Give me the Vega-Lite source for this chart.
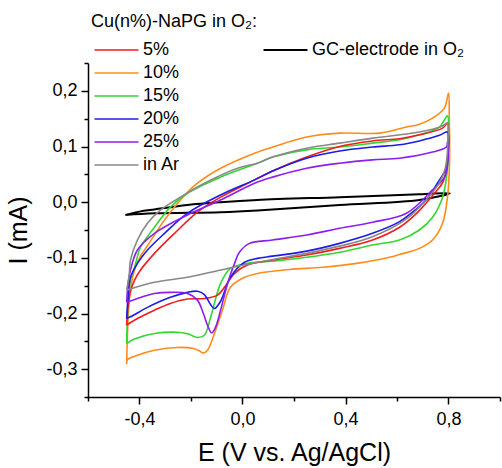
{
  "$schema": "https://vega.github.io/schema/vega-lite/v6.json",
  "width": 412,
  "height": 334,
  "autosize": {"type": "none"},
  "padding": {"left": 88, "top": 63, "right": 2, "bottom": 71},
  "config": {
    "font": "Liberation Sans",
    "view": {"stroke": null},
    "axis": {"grid": false, "domainColor": "#000", "domainWidth": 1.5, "tickColor": "#000", "tickWidth": 1.5, "labelColor": "#000", "titleColor": "#000", "labelFont": "Liberation Sans", "titleFont": "Liberation Sans", "titleFontWeight": "normal"},
    "legend": {"padding": 0, "labelFont": "Liberation Sans", "titleFont": "Liberation Sans", "labelColor": "#000", "titleColor": "#000", "titleFontWeight": "normal"}
  },
  "datasets": {
    "cv": [
      {"s":"10%","i":0,"E":-0.45,"I":-0.291},{"s":"10%","i":1,"E":-0.447,"I":-0.24},{"s":"10%","i":2,"E":-0.442,"I":-0.19},{"s":"10%","i":3,"E":-0.433,"I":-0.15},{"s":"10%","i":4,"E":-0.418,"I":-0.12},{"s":"10%","i":5,"E":-0.4,"I":-0.1},{"s":"10%","i":6,"E":-0.369,"I":-0.078},{"s":"10%","i":7,"E":-0.303,"I":-0.032},{"s":"10%","i":8,"E":-0.241,"I":0.004},{"s":"10%","i":9,"E":-0.175,"I":0.034},{"s":"10%","i":10,"E":-0.085,"I":0.061},{"s":"10%","i":11,"E":0.047,"I":0.088},{"s":"10%","i":12,"E":0.117,"I":0.099},{"s":"10%","i":13,"E":0.249,"I":0.117},{"s":"10%","i":14,"E":0.377,"I":0.124},{"s":"10%","i":15,"E":0.532,"I":0.124},{"s":"10%","i":16,"E":0.637,"I":0.135},{"s":"10%","i":17,"E":0.687,"I":0.14},{"s":"10%","i":18,"E":0.738,"I":0.151},{"s":"10%","i":19,"E":0.784,"I":0.169},{"s":"10%","i":20,"E":0.8,"I":0.196},
      {"s":"10%","i":21,"E":0.803,"I":0.15},{"s":"10%","i":22,"E":0.804,"I":0.07},{"s":"10%","i":23,"E":0.796,"I":0.009},{"s":"10%","i":24,"E":0.777,"I":-0.038},{"s":"10%","i":25,"E":0.738,"I":-0.068},{"s":"10%","i":26,"E":0.687,"I":-0.083},{"s":"10%","i":27,"E":0.61,"I":-0.094},{"s":"10%","i":28,"E":0.571,"I":-0.099},{"s":"10%","i":29,"E":0.443,"I":-0.11},{"s":"10%","i":30,"E":0.311,"I":-0.117},{"s":"10%","i":31,"E":0.183,"I":-0.121},{"s":"10%","i":32,"E":0.058,"I":-0.128},{"s":"10%","i":33,"E":0.008,"I":-0.135},{"s":"10%","i":34,"E":-0.047,"I":-0.153},{"s":"10%","i":35,"E":-0.078,"I":-0.194},{"s":"10%","i":36,"E":-0.109,"I":-0.236},{"s":"10%","i":37,"E":-0.136,"I":-0.266},{"s":"10%","i":38,"E":-0.152,"I":-0.271},{"s":"10%","i":39,"E":-0.168,"I":-0.267},{"s":"10%","i":40,"E":-0.19,"I":-0.263},{"s":"10%","i":41,"E":-0.252,"I":-0.261},{"s":"10%","i":42,"E":-0.342,"I":-0.266},{"s":"10%","i":43,"E":-0.408,"I":-0.275},{"s":"10%","i":44,"E":-0.447,"I":-0.283},{"s":"10%","i":45,"E":-0.45,"I":-0.291},

      {"s":"15%","i":0,"E":-0.45,"I":-0.254},{"s":"15%","i":1,"E":-0.447,"I":-0.21},{"s":"15%","i":2,"E":-0.442,"I":-0.17},{"s":"15%","i":3,"E":-0.435,"I":-0.14},{"s":"15%","i":4,"E":-0.419,"I":-0.117},{"s":"15%","i":5,"E":-0.396,"I":-0.081},{"s":"15%","i":6,"E":-0.342,"I":-0.045},{"s":"15%","i":7,"E":-0.28,"I":-0.009},{"s":"15%","i":8,"E":-0.214,"I":0.016},{"s":"15%","i":9,"E":-0.085,"I":0.045},{"s":"15%","i":10,"E":0.058,"I":0.07},{"s":"15%","i":11,"E":0.117,"I":0.081},{"s":"15%","i":12,"E":0.249,"I":0.094},{"s":"15%","i":13,"E":0.377,"I":0.099},{"s":"15%","i":14,"E":0.505,"I":0.106},{"s":"15%","i":15,"E":0.61,"I":0.112},{"s":"15%","i":16,"E":0.687,"I":0.121},{"s":"15%","i":17,"E":0.765,"I":0.135},{"s":"15%","i":18,"E":0.796,"I":0.155},
      {"s":"15%","i":19,"E":0.799,"I":0.12},{"s":"15%","i":20,"E":0.798,"I":0.07},{"s":"15%","i":21,"E":0.777,"I":0.009},{"s":"15%","i":22,"E":0.738,"I":-0.027},{"s":"15%","i":23,"E":0.687,"I":-0.05},{"s":"15%","i":24,"E":0.61,"I":-0.068},{"s":"15%","i":25,"E":0.505,"I":-0.077},{"s":"15%","i":26,"E":0.377,"I":-0.09},{"s":"15%","i":27,"E":0.249,"I":-0.099},{"s":"15%","i":28,"E":0.117,"I":-0.106},{"s":"15%","i":29,"E":0.019,"I":-0.11},{"s":"15%","i":30,"E":-0.047,"I":-0.119},{"s":"15%","i":31,"E":-0.085,"I":-0.146},{"s":"15%","i":32,"E":-0.124,"I":-0.207},{"s":"15%","i":33,"E":-0.148,"I":-0.239},{"s":"15%","i":34,"E":-0.175,"I":-0.243},{"s":"15%","i":35,"E":-0.21,"I":-0.237},{"s":"15%","i":36,"E":-0.241,"I":-0.234},{"s":"15%","i":37,"E":-0.342,"I":-0.236},{"s":"15%","i":38,"E":-0.42,"I":-0.246},{"s":"15%","i":39,"E":-0.45,"I":-0.254},

      {"s":"5%","i":0,"E":-0.45,"I":-0.221},{"s":"5%","i":1,"E":-0.445,"I":-0.19},{"s":"5%","i":2,"E":-0.435,"I":-0.16},{"s":"5%","i":3,"E":-0.419,"I":-0.14},{"s":"5%","i":4,"E":-0.396,"I":-0.122},{"s":"5%","i":5,"E":-0.342,"I":-0.092},{"s":"5%","i":6,"E":-0.264,"I":-0.056},{"s":"5%","i":7,"E":-0.175,"I":-0.018},{"s":"5%","i":8,"E":-0.085,"I":0.009},{"s":"5%","i":9,"E":0.047,"I":0.04},{"s":"5%","i":10,"E":0.117,"I":0.056},{"s":"5%","i":11,"E":0.249,"I":0.081},{"s":"5%","i":12,"E":0.377,"I":0.1},{"s":"5%","i":13,"E":0.505,"I":0.11},{"s":"5%","i":14,"E":0.61,"I":0.114},{"s":"5%","i":15,"E":0.687,"I":0.121},{"s":"5%","i":16,"E":0.777,"I":0.133},{"s":"5%","i":17,"E":0.796,"I":0.142},
      {"s":"5%","i":18,"E":0.798,"I":0.1},{"s":"5%","i":19,"E":0.792,"I":0.06},{"s":"5%","i":20,"E":0.777,"I":0.035},{"s":"5%","i":21,"E":0.738,"I":0.012},{"s":"5%","i":22,"E":0.676,"I":-0.02},{"s":"5%","i":23,"E":0.61,"I":-0.045},{"s":"5%","i":24,"E":0.505,"I":-0.068},{"s":"5%","i":25,"E":0.377,"I":-0.083},{"s":"5%","i":26,"E":0.249,"I":-0.095},{"s":"5%","i":27,"E":0.117,"I":-0.104},{"s":"5%","i":28,"E":0.019,"I":-0.113},{"s":"5%","i":29,"E":-0.031,"I":-0.128},{"s":"5%","i":30,"E":-0.07,"I":-0.153},{"s":"5%","i":31,"E":-0.097,"I":-0.167},{"s":"5%","i":32,"E":-0.148,"I":-0.173},{"s":"5%","i":33,"E":-0.214,"I":-0.174},{"s":"5%","i":34,"E":-0.28,"I":-0.182},{"s":"5%","i":35,"E":-0.342,"I":-0.194},{"s":"5%","i":36,"E":-0.408,"I":-0.209},{"s":"5%","i":37,"E":-0.45,"I":-0.221},

      {"s":"20%","i":0,"E":-0.45,"I":-0.209},{"s":"20%","i":1,"E":-0.445,"I":-0.175},{"s":"20%","i":2,"E":-0.435,"I":-0.135},{"s":"20%","i":3,"E":-0.408,"I":-0.11},{"s":"20%","i":4,"E":-0.369,"I":-0.086},{"s":"20%","i":5,"E":-0.303,"I":-0.056},{"s":"20%","i":6,"E":-0.214,"I":-0.02},{"s":"20%","i":7,"E":-0.085,"I":0.013},{"s":"20%","i":8,"E":0.047,"I":0.04},{"s":"20%","i":9,"E":0.117,"I":0.056},{"s":"20%","i":10,"E":0.249,"I":0.079},{"s":"20%","i":11,"E":0.377,"I":0.092},{"s":"20%","i":12,"E":0.505,"I":0.099},{"s":"20%","i":13,"E":0.61,"I":0.103},{"s":"20%","i":14,"E":0.687,"I":0.11},{"s":"20%","i":15,"E":0.765,"I":0.12},{"s":"20%","i":16,"E":0.796,"I":0.126},
      {"s":"20%","i":17,"E":0.799,"I":0.09},{"s":"20%","i":18,"E":0.79,"I":0.06},{"s":"20%","i":19,"E":0.765,"I":0.04},{"s":"20%","i":20,"E":0.715,"I":0.005},{"s":"20%","i":21,"E":0.676,"I":-0.012},{"s":"20%","i":22,"E":0.61,"I":-0.035},{"s":"20%","i":23,"E":0.505,"I":-0.056},{"s":"20%","i":24,"E":0.377,"I":-0.074},{"s":"20%","i":25,"E":0.249,"I":-0.088},{"s":"20%","i":26,"E":0.117,"I":-0.097},{"s":"20%","i":27,"E":0.058,"I":-0.101},{"s":"20%","i":28,"E":0.008,"I":-0.108},{"s":"20%","i":29,"E":-0.047,"I":-0.135},{"s":"20%","i":30,"E":-0.085,"I":-0.178},{"s":"20%","i":31,"E":-0.109,"I":-0.191},{"s":"20%","i":32,"E":-0.124,"I":-0.184},{"s":"20%","i":33,"E":-0.148,"I":-0.166},{"s":"20%","i":34,"E":-0.175,"I":-0.16},{"s":"20%","i":35,"E":-0.214,"I":-0.162},{"s":"20%","i":36,"E":-0.28,"I":-0.171},{"s":"20%","i":37,"E":-0.369,"I":-0.189},{"s":"20%","i":38,"E":-0.435,"I":-0.206},{"s":"20%","i":39,"E":-0.45,"I":-0.209},

      {"s":"25%","i":0,"E":-0.45,"I":-0.18},{"s":"25%","i":1,"E":-0.445,"I":-0.15},{"s":"25%","i":2,"E":-0.435,"I":-0.122},{"s":"25%","i":3,"E":-0.408,"I":-0.086},{"s":"25%","i":4,"E":-0.342,"I":-0.056},{"s":"25%","i":5,"E":-0.214,"I":-0.023},{"s":"25%","i":6,"E":-0.085,"I":0.004},{"s":"25%","i":7,"E":0.047,"I":0.034},{"s":"25%","i":8,"E":0.117,"I":0.045},{"s":"25%","i":9,"E":0.249,"I":0.061},{"s":"25%","i":10,"E":0.377,"I":0.07},{"s":"25%","i":11,"E":0.505,"I":0.076},{"s":"25%","i":12,"E":0.61,"I":0.079},{"s":"25%","i":13,"E":0.738,"I":0.09},{"s":"25%","i":14,"E":0.792,"I":0.099},{"s":"25%","i":15,"E":0.796,"I":0.108},
      {"s":"25%","i":16,"E":0.797,"I":0.07},{"s":"25%","i":17,"E":0.785,"I":0.045},{"s":"25%","i":18,"E":0.738,"I":0.022},{"s":"25%","i":19,"E":0.637,"I":-0.02},{"s":"25%","i":20,"E":0.505,"I":-0.036},{"s":"25%","i":21,"E":0.377,"I":-0.047},{"s":"25%","i":22,"E":0.249,"I":-0.059},{"s":"25%","i":23,"E":0.117,"I":-0.068},{"s":"25%","i":24,"E":0.027,"I":-0.074},{"s":"25%","i":25,"E":-0.012,"I":-0.09},{"s":"25%","i":26,"E":-0.031,"I":-0.11},{"s":"25%","i":27,"E":-0.058,"I":-0.146},{"s":"25%","i":28,"E":-0.085,"I":-0.194},{"s":"25%","i":29,"E":-0.105,"I":-0.225},{"s":"25%","i":30,"E":-0.12,"I":-0.235},{"s":"25%","i":31,"E":-0.135,"I":-0.222},{"s":"25%","i":32,"E":-0.152,"I":-0.2},{"s":"25%","i":33,"E":-0.175,"I":-0.176},{"s":"25%","i":34,"E":-0.214,"I":-0.164},{"s":"25%","i":35,"E":-0.28,"I":-0.162},{"s":"25%","i":36,"E":-0.342,"I":-0.164},{"s":"25%","i":37,"E":-0.408,"I":-0.173},{"s":"25%","i":38,"E":-0.45,"I":-0.18},

      {"s":"in Ar","i":0,"E":-0.45,"I":-0.158},{"s":"in Ar","i":1,"E":-0.44,"I":-0.13},{"s":"in Ar","i":2,"E":-0.435,"I":-0.104},{"s":"in Ar","i":3,"E":-0.408,"I":-0.068},{"s":"in Ar","i":4,"E":-0.369,"I":-0.038},{"s":"in Ar","i":5,"E":-0.318,"I":-0.014},{"s":"in Ar","i":6,"E":-0.241,"I":0.009},{"s":"in Ar","i":7,"E":-0.148,"I":0.034},{"s":"in Ar","i":8,"E":-0.019,"I":0.061},{"s":"in Ar","i":9,"E":0.058,"I":0.07},{"s":"in Ar","i":10,"E":0.117,"I":0.081},{"s":"in Ar","i":11,"E":0.249,"I":0.097},{"s":"in Ar","i":12,"E":0.377,"I":0.106},{"s":"in Ar","i":13,"E":0.505,"I":0.115},{"s":"in Ar","i":14,"E":0.687,"I":0.126},{"s":"in Ar","i":15,"E":0.777,"I":0.137},{"s":"in Ar","i":16,"E":0.795,"I":0.142},
      {"s":"in Ar","i":17,"E":0.797,"I":0.1},{"s":"in Ar","i":18,"E":0.787,"I":0.06},{"s":"in Ar","i":19,"E":0.765,"I":0.035},{"s":"in Ar","i":20,"E":0.715,"I":0.005},{"s":"in Ar","i":21,"E":0.637,"I":-0.03},{"s":"in Ar","i":22,"E":0.505,"I":-0.062},{"s":"in Ar","i":23,"E":0.377,"I":-0.079},{"s":"in Ar","i":24,"E":0.249,"I":-0.092},{"s":"in Ar","i":25,"E":0.117,"I":-0.103},{"s":"in Ar","i":26,"E":0.058,"I":-0.108},{"s":"in Ar","i":27,"E":-0.085,"I":-0.122},{"s":"in Ar","i":28,"E":-0.214,"I":-0.135},{"s":"in Ar","i":29,"E":-0.342,"I":-0.144},{"s":"in Ar","i":30,"E":-0.45,"I":-0.158}
    ],
    "gc": [
      {"s":"GC-electrode in O₂","i":0,"E":-0.455,"I":-0.023},{"s":"GC-electrode in O₂","i":1,"E":-0.4,"I":-0.017},{"s":"GC-electrode in O₂","i":2,"E":-0.342,"I":-0.013},{"s":"GC-electrode in O₂","i":3,"E":-0.214,"I":-0.005},{"s":"GC-electrode in O₂","i":4,"E":-0.085,"I":0.0},{"s":"GC-electrode in O₂","i":5,"E":0.058,"I":0.004},{"s":"GC-electrode in O₂","i":6,"E":0.377,"I":0.009},{"s":"GC-electrode in O₂","i":7,"E":0.687,"I":0.014},{"s":"GC-electrode in O₂","i":8,"E":0.805,"I":0.016},{"s":"GC-electrode in O₂","i":9,"E":0.687,"I":0.004},{"s":"GC-electrode in O₂","i":10,"E":0.377,"I":-0.005},{"s":"GC-electrode in O₂","i":11,"E":0.058,"I":-0.015},{"s":"GC-electrode in O₂","i":12,"E":-0.085,"I":-0.018},{"s":"GC-electrode in O₂","i":13,"E":-0.342,"I":-0.02},{"s":"GC-electrode in O₂","i":14,"E":-0.455,"I":-0.023}
    ]
  },
  "layer": [
    {
      "data": {"name": "gc"},
      "mark": {"type": "line", "strokeWidth": 2, "interpolate": "catmull-rom"},
      "encoding": {
        "x": {"field": "E", "type": "quantitative", "scale": {"domain": [-0.6, 1.0], "nice": false, "zero": false},
              "axis": {"orient": "bottom", "values": [-0.6, -0.2, 0.2, 0.6, 1.0], "tickSize": 4, "labels": false, "domain": false, "title": null}},
        "y": {"field": "I", "type": "quantitative", "scale": {"domain": [-0.35, 0.25], "nice": false, "zero": false},
              "axis": {"orient": "left", "values": [-0.35, -0.25, -0.15, -0.05, 0.05, 0.15, 0.25], "tickSize": 4, "labels": false, "domain": false, "title": null}},
        "color": {"field": "s", "type": "nominal", "scale": {"domain": ["GC-electrode in O₂"], "range": ["#000000"]},
                  "legend": {"orient": "none", "legendX": 172, "legendY": -22, "title": null, "symbolType": "M-1,0H7", "symbolSize": 121, "symbolStrokeWidth": 2, "labelFontSize": 18, "labelOffset": 34}},
        "order": {"field": "i", "type": "quantitative"}
      }
    },
    {
      "data": {"name": "cv"},
      "mark": {"type": "line", "strokeWidth": 1.6, "interpolate": "catmull-rom"},
      "encoding": {
        "x": {"field": "E", "type": "quantitative", "scale": {"domain": [-0.6, 1.0], "nice": false, "zero": false},
              "axis": {"orient": "bottom", "values": [-0.4, 0, 0.4, 0.8], "tickSize": 7, "labelFontSize": 18, "labelPadding": 6,
                       "labelExpr": "replace(replace(format(datum.value, '.1f'), '.', ','), '−', '-')",
                       "title": "E (V vs. Ag/AgCl)", "titleFontSize": 25, "titlePadding": 12}},
        "y": {"field": "I", "type": "quantitative", "scale": {"domain": [-0.35, 0.25], "nice": false, "zero": false},
              "axis": {"orient": "left", "values": [-0.3, -0.2, -0.1, 0, 0.1, 0.2], "tickSize": 7, "labelFontSize": 18, "labelPadding": 4,
                       "labelExpr": "replace(replace(format(datum.value, '.1f'), '.', ','), '−', '-')",
                       "title": "I (mA)", "titleFontSize": 25, "titlePadding": 14}},
        "color": {"field": "s", "type": "nominal",
                  "scale": {"domain": ["5%", "10%", "15%", "20%", "25%", "in Ar"], "range": ["#f21c1c", "#ff8c1a", "#33d633", "#1c1ce6", "#8c1ef0", "#888888"]},
                  "legend": {"orient": "none", "legendX": 3, "legendY": -50, "title": "Cu(n%)-NaPG in O₂:", "titleFontSize": 18, "titlePadding": 10,
                             "symbolType": "M-1,0H7", "symbolSize": 121, "symbolStrokeWidth": 1.6, "labelFontSize": 18, "labelOffset": 34, "rowPadding": 5}},
        "order": {"field": "i", "type": "quantitative"}
      }
    }
  ],
  "resolve": {"scale": {"color": "independent"}, "axis": {"x": "independent", "y": "independent"}}
}
